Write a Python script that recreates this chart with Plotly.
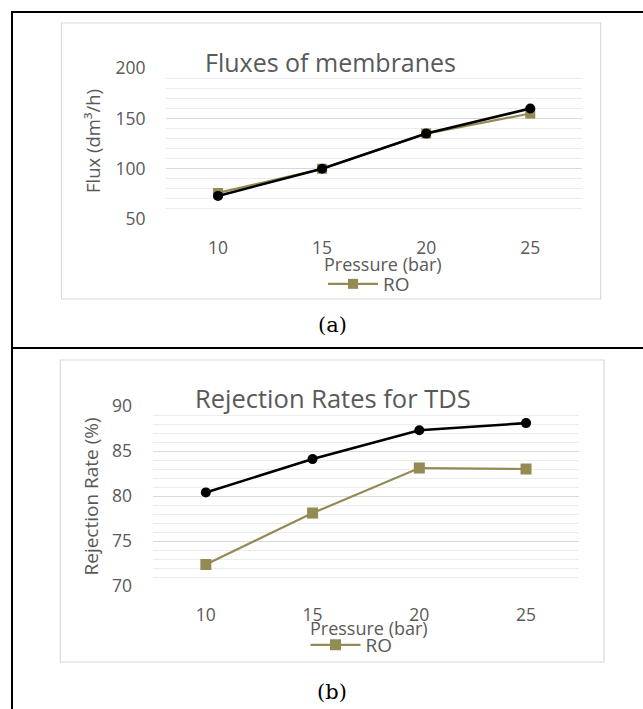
import plotly.graph_objects as go

W, H = 643, 709

pressure = ["10", "15", "20", "25"]
flux_ro = [76, 100, 135, 155]
flux_other = [73, 100, 135, 160]
rej_ro = [72.4, 78.1, 83.1, 83.0]
rej_other = [80.4, 84.1, 87.3, 88.1]

OLIVE = "#948A54"
TXT = "#595959"
FONT = "Open Sans"

def px(x):
    return x / W

def py(y):
    return 1 - y / H

fig = go.Figure()

# Panel (a)
fig.add_trace(go.Scatter(x=pressure, y=flux_ro, name="RO", mode="lines+markers",
                         line=dict(color=OLIVE, width=2.2),
                         marker=dict(symbol="square", size=10, color=OLIVE),
                         xaxis="x", yaxis="y", legend="legend"))
fig.add_trace(go.Scatter(x=pressure, y=flux_other, name="", mode="lines+markers",
                         line=dict(color="black", width=2.6),
                         marker=dict(symbol="circle", size=10, color="black"),
                         xaxis="x", yaxis="y", showlegend=False))
# Panel (b)
fig.add_trace(go.Scatter(x=pressure, y=rej_ro, name="RO", mode="lines+markers",
                         line=dict(color=OLIVE, width=2.2),
                         marker=dict(symbol="square", size=11, color=OLIVE),
                         xaxis="x2", yaxis="y2", legend="legend2"))
fig.add_trace(go.Scatter(x=pressure, y=rej_other, name="", mode="lines+markers",
                         line=dict(color="black", width=2.6),
                         marker=dict(symbol="circle", size=10, color="black"),
                         xaxis="x2", yaxis="y2", showlegend=False))

tickfont = dict(family=FONT, size=17.5, color=TXT)

def xax(x0, x1):
    return dict(domain=[px(x0), px(x1)], type="category", automargin=False,
                range=[-0.5, 3.5], showgrid=False, showline=False, zeroline=False,
                ticks="outside", ticklen=13, tickcolor="rgba(0,0,0,0)",
                tickfont=tickfont, fixedrange=True)

def yax(y0, y1, r, dt, mdt):
    return dict(domain=[py(y1), py(y0)], range=r, dtick=dt, tick0=r[0], automargin=False,
                showgrid=True, gridcolor="#d9d9d9", gridwidth=1.3,
                minor=dict(dtick=mdt, showgrid=True, gridcolor="#ececec", gridwidth=1),
                showline=False, zeroline=False,
                ticks="outside", ticklen=16, tickcolor="rgba(0,0,0,0)",
                tickfont=tickfont, fixedrange=True)

xa = xax(166, 582.3); xa["anchor"] = "y"
ya = yax(68.3, 219, [50, 200], 50, 10); ya["anchor"] = "x"
xb = xax(152.5, 579.4); xb["anchor"] = "y2"
yb = yax(406, 586, [70, 90], 5, 1); yb["anchor"] = "x2"

shapes = []
# table borders
blk = dict(color="black", width=2)
shapes.append(dict(type="line", xref="paper", yref="paper", x0=px(12), x1=px(W + 5), y0=py(12), y1=py(12), line=blk))
shapes.append(dict(type="line", xref="paper", yref="paper", x0=px(12), x1=px(W + 5), y0=py(348), y1=py(348), line=blk))
shapes.append(dict(type="line", xref="paper", yref="paper", x0=px(12), x1=px(12), y0=py(11), y1=py(H + 5), line=blk))
# chart frames
gry = dict(color="#d9d9d9", width=1.2)
shapes.append(dict(type="rect", xref="paper", yref="paper", x0=px(61.5), x1=px(600.7), y0=py(23), y1=py(299), line=gry))
shapes.append(dict(type="rect", xref="paper", yref="paper", x0=px(60.3), x1=px(604), y0=py(360), y1=py(662), line=gry))

def ann(text, x, y, size, color=TXT, family=FONT, angle=0):
    return dict(text=text, x=px(x), y=py(y), xref="paper", yref="paper",
                showarrow=False, xanchor="center", yanchor="middle",
                font=dict(family=family, size=size, color=color), textangle=angle)

annotations = [
    ann("Fluxes of membranes", 330.5, 62, 25),
    ann("Flux (dm³/h)", 92, 141, 18.5, angle=-90),
    ann("Pressure (bar)", 383.4, 264, 18),
    ann("(a)", 332, 325, 21, color="black", family="DejaVu Serif"),
    ann("Rejection Rates for TDS", 333, 398, 25.5),
    ann("Rejection Rate (%)", 90, 496.5, 19, angle=-90),
    ann("Pressure (bar)", 368.6, 628, 18),
    ann("(b)", 332, 692, 21, color="black", family="DejaVu Serif"),
]

legfont = dict(family=FONT, size=19, color=TXT)
fig.update_layout(
    width=W, height=H, autosize=False,
    margin=dict(l=0, r=0, t=0, b=0, pad=0, autoexpand=False),
    paper_bgcolor="white", plot_bgcolor="white",
    xaxis=xa, yaxis=ya, xaxis2=xb, yaxis2=yb,
    shapes=shapes, annotations=annotations,
    legend=dict(x=px(323), y=py(284), xanchor="left", yanchor="middle",
                font=legfont, bgcolor="rgba(0,0,0,0)", itemwidth=50,
                tracegroupgap=0),
    legend2=dict(x=px(305.5), y=py(645), xanchor="left", yanchor="middle",
                 font=legfont, bgcolor="rgba(0,0,0,0)", itemwidth=50,
                 tracegroupgap=0),
    showlegend=True,
)

fig.write_html("out.html", config={"responsive": False, "displayModeBar": False},
               post_script="document.body.style.margin='0';document.body.style.overflow='hidden';")
